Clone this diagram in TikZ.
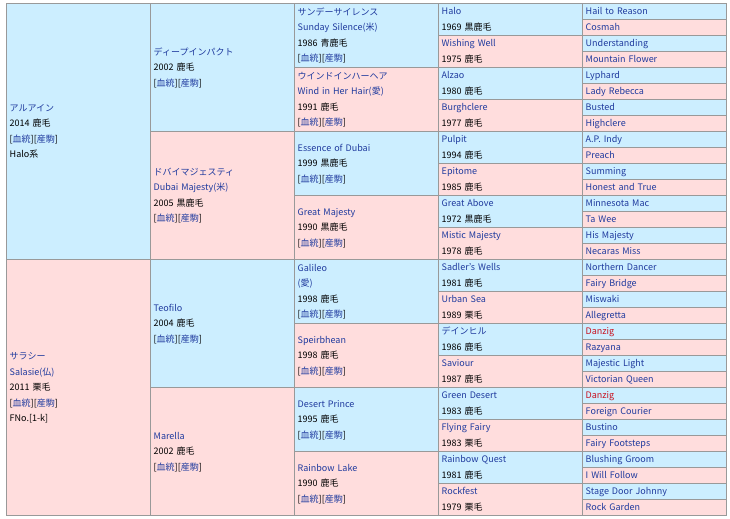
\documentclass[tikz,border=0pt]{standalone}
\usepackage{fontspec}
\setmainfont{Noto Sans CJK JP}
\definecolor{sb}{HTML}{CCEEFF}
\definecolor{dp}{HTML}{FFDDDD}
\definecolor{lk}{HTML}{1F3A9E}
\definecolor{rd}{HTML}{C8101E}
\definecolor{bd}{HTML}{999999}
\newcommand\lk[1]{{\color{lk}#1}}
\newcommand\rdn[1]{{\color{rd}#1}}
\newcommand\bl{[\lk{血統}][\lk{産駒}]}
\tikzset{
  pcell/.style={draw=bd, line width=1bp, anchor=north west, inner xsep=3.5bp, inner ysep=0pt,
    minimum width=144bp, text width=137bp, align=left,
    font=\fontsize{9bp}{15.5bp}\selectfont,
    execute at begin node=\strut, execute at end node=\strut},
  ga/.style={pcell, minimum height=256bp},
  gb/.style={pcell, minimum height=128bp},
  gc/.style={pcell, minimum height=64bp},
  gd/.style={pcell, minimum height=32bp},
  ge/.style={pcell, minimum height=16bp},
}
\newcommand\pc[5]{\node[#2,fill=#4] (#1) at ({5.7+144*#3}, {3+16*#5})}
\begin{document}
\begin{tikzpicture}[x=1bp,y=-1bp]
\useasboundingbox (0,0) rectangle (730,519);
\fill[white] (0,0) rectangle (730,519);
% generation 1
\pc{a1}{ga}{0}{sb}{0}{\lk{アルアイン}\\2014 鹿毛\\\bl\\Halo系};
\pc{a2}{ga}{0}{dp}{16}{\lk{サラシー}\\\lk{Salasie(仏)}\\2011 栗毛\\\bl\\FNo.[1-k]};
% generation 2
\pc{b1}{gb}{1}{sb}{0}{\lk{ディープインパクト}\\2002 鹿毛\\\bl};
\pc{b2}{gb}{1}{dp}{8}{\lk{ドバイマジェスティ}\\\lk{Dubai Majesty(米)}\\2005 黒鹿毛\\\bl};
\pc{b3}{gb}{1}{sb}{16}{\lk{Teofilo}\\2004 鹿毛\\\bl};
\pc{b4}{gb}{1}{dp}{24}{\lk{Marella}\\2002 鹿毛\\\bl};
% generation 3
\pc{c1}{gc}{2}{sb}{0}{\lk{サンデーサイレンス}\\\lk{Sunday Silence(米)}\\1986 青鹿毛\\\bl};
\pc{c2}{gc}{2}{dp}{4}{\lk{ウインドインハーヘア}\\\lk{Wind in Her Hair(愛)}\\1991 鹿毛\\\bl};
\pc{c3}{gc}{2}{sb}{8}{\lk{Essence of Dubai}\\1999 黒鹿毛\\\bl};
\pc{c4}{gc}{2}{dp}{12}{\lk{Great Majesty}\\1990 黒鹿毛\\\bl};
\pc{c5}{gc}{2}{sb}{16}{\lk{Galileo}\\\lk{(愛)}\\1998 鹿毛\\\bl};
\pc{c6}{gc}{2}{dp}{20}{\lk{Speirbhean}\\1998 鹿毛\\\bl};
\pc{c7}{gc}{2}{sb}{24}{\lk{Desert Prince}\\1995 鹿毛\\\bl};
\pc{c8}{gc}{2}{dp}{28}{\lk{Rainbow Lake}\\1990 鹿毛\\\bl};
% generation 4
\pc{d1}{gd}{3}{sb}{0}{\lk{Halo}\\1969 黒鹿毛};
\pc{d2}{gd}{3}{dp}{2}{\lk{Wishing Well}\\1975 鹿毛};
\pc{d3}{gd}{3}{sb}{4}{\lk{Alzao}\\1980 鹿毛};
\pc{d4}{gd}{3}{dp}{6}{\lk{Burghclere}\\1977 鹿毛};
\pc{d5}{gd}{3}{sb}{8}{\lk{Pulpit}\\1994 鹿毛};
\pc{d6}{gd}{3}{dp}{10}{\lk{Epitome}\\1985 鹿毛};
\pc{d7}{gd}{3}{sb}{12}{\lk{Great Above}\\1972 黒鹿毛};
\pc{d8}{gd}{3}{dp}{14}{\lk{Mistic Majesty}\\1978 鹿毛};
\pc{d9}{gd}{3}{sb}{16}{\lk{Sadler's Wells}\\1981 鹿毛};
\pc{d10}{gd}{3}{dp}{18}{\lk{Urban Sea}\\1989 栗毛};
\pc{d11}{gd}{3}{sb}{20}{\lk{デインヒル}\\1986 鹿毛};
\pc{d12}{gd}{3}{dp}{22}{\lk{Saviour}\\1987 鹿毛};
\pc{d13}{gd}{3}{sb}{24}{\lk{Green Desert}\\1983 鹿毛};
\pc{d14}{gd}{3}{dp}{26}{\lk{Flying Fairy}\\1983 栗毛};
\pc{d15}{gd}{3}{sb}{28}{\lk{Rainbow Quest}\\1981 鹿毛};
\pc{d16}{gd}{3}{dp}{30}{\lk{Rockfest}\\1979 栗毛};
% generation 5
\pc{e1}{ge}{4}{sb}{0}{\lk{Hail to Reason}};
\pc{e2}{ge}{4}{dp}{1}{\lk{Cosmah}};
\pc{e3}{ge}{4}{sb}{2}{\lk{Understanding}};
\pc{e4}{ge}{4}{dp}{3}{\lk{Mountain Flower}};
\pc{e5}{ge}{4}{sb}{4}{\lk{Lyphard}};
\pc{e6}{ge}{4}{dp}{5}{\lk{Lady Rebecca}};
\pc{e7}{ge}{4}{sb}{6}{\lk{Busted}};
\pc{e8}{ge}{4}{dp}{7}{\lk{Highclere}};
\pc{e9}{ge}{4}{sb}{8}{\lk{A.P. Indy}};
\pc{e10}{ge}{4}{dp}{9}{\lk{Preach}};
\pc{e11}{ge}{4}{sb}{10}{\lk{Summing}};
\pc{e12}{ge}{4}{dp}{11}{\lk{Honest and True}};
\pc{e13}{ge}{4}{sb}{12}{\lk{Minnesota Mac}};
\pc{e14}{ge}{4}{dp}{13}{\lk{Ta Wee}};
\pc{e15}{ge}{4}{sb}{14}{\lk{His Majesty}};
\pc{e16}{ge}{4}{dp}{15}{\lk{Necaras Miss}};
\pc{e17}{ge}{4}{sb}{16}{\lk{Northern Dancer}};
\pc{e18}{ge}{4}{dp}{17}{\lk{Fairy Bridge}};
\pc{e19}{ge}{4}{sb}{18}{\lk{Miswaki}};
\pc{e20}{ge}{4}{dp}{19}{\lk{Allegretta}};
\pc{e21}{ge}{4}{sb}{20}{\rdn{Danzig}};
\pc{e22}{ge}{4}{dp}{21}{\lk{Razyana}};
\pc{e23}{ge}{4}{sb}{22}{\lk{Majestic Light}};
\pc{e24}{ge}{4}{dp}{23}{\lk{Victorian Queen}};
\pc{e25}{ge}{4}{sb}{24}{\rdn{Danzig}};
\pc{e26}{ge}{4}{dp}{25}{\lk{Foreign Courier}};
\pc{e27}{ge}{4}{sb}{26}{\lk{Bustino}};
\pc{e28}{ge}{4}{dp}{27}{\lk{Fairy Footsteps}};
\pc{e29}{ge}{4}{sb}{28}{\lk{Blushing Groom}};
\pc{e30}{ge}{4}{dp}{29}{\lk{I Will Follow}};
\pc{e31}{ge}{4}{sb}{30}{\lk{Stage Door Johnny}};
\pc{e32}{ge}{4}{dp}{31}{\lk{Rock Garden}};
\end{tikzpicture}
\end{document}
